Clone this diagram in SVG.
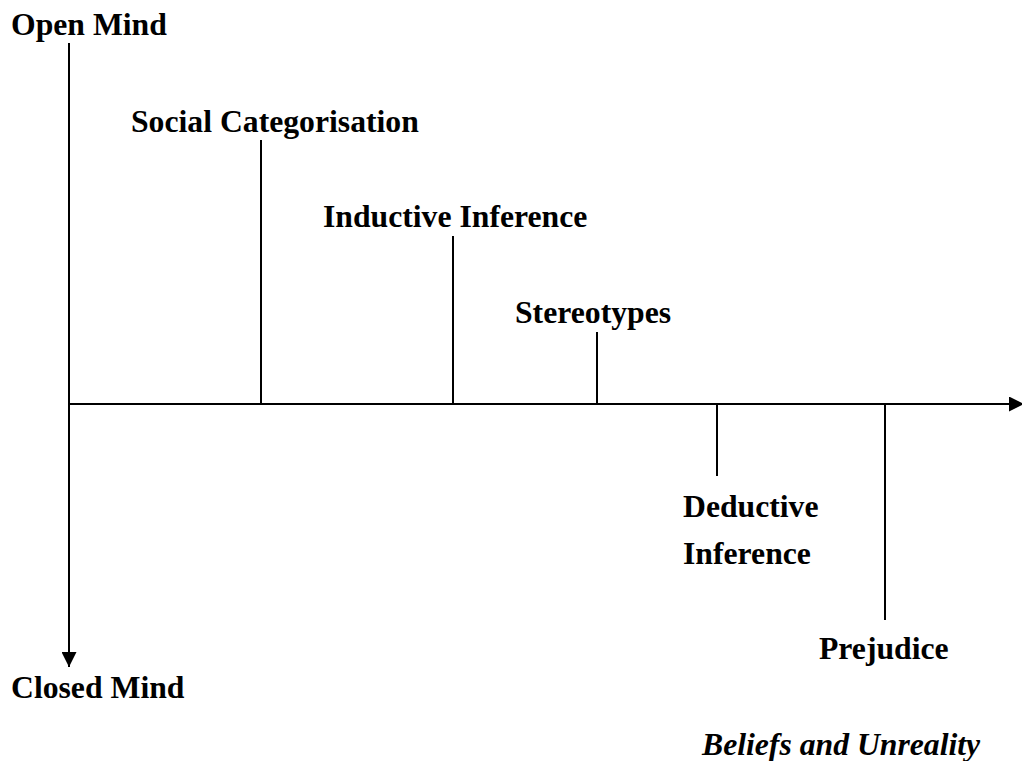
<svg xmlns="http://www.w3.org/2000/svg" width="1022" height="761" viewBox="0 0 1022 761">
  <style>
    .lbl { font-family: "Liberation Serif", "Times New Roman", serif; font-weight: bold; font-size: 31.7px; fill: #000; }
    .ital { font-style: italic; }
    .ln { stroke: #000; stroke-width: 2; fill: none; }
  </style>
  <defs>
    <marker id="arrow" viewBox="0 0 10 10" refX="10" refY="5" markerWidth="7.5" markerHeight="7.5" markerUnits="strokeWidth" orient="auto">
      <path d="M0,0 L10,5 L0,10 z" fill="#000"/>
    </marker>
  </defs>
  <rect width="1022" height="761" fill="#fff"/>

  <!-- axes and tick lines -->
  <g id="connectors">
    <line class="ln" x1="69" y1="43" x2="69" y2="667" marker-end="url(#arrow)"/>
    <line class="ln" x1="69" y1="404" x2="1024" y2="404" marker-end="url(#arrow)"/>
    <line class="ln" x1="261" y1="140" x2="261" y2="404"/>
    <line class="ln" x1="453" y1="236" x2="453" y2="404"/>
    <line class="ln" x1="597" y1="332" x2="597" y2="404"/>
    <line class="ln" x1="717" y1="404" x2="717" y2="476"/>
    <line class="ln" x1="885" y1="404" x2="885" y2="620"/>
  </g>

  <g id="open-mind"><text class="lbl" x="11" y="35">Open Mind</text></g>
  <g id="closed-mind"><text class="lbl" x="11" y="698">Closed Mind</text></g>
  <g id="social-categorisation"><text class="lbl" x="131" y="132">Social Categorisation</text></g>
  <g id="inductive-inference"><text class="lbl" x="323" y="227">Inductive Inference</text></g>
  <g id="stereotypes"><text class="lbl" x="515" y="323">Stereotypes</text></g>
  <g id="deductive-inference">
    <text class="lbl" x="683" y="517">Deductive</text>
    <text class="lbl" x="683" y="564">Inference</text>
  </g>
  <g id="prejudice"><text class="lbl" x="819" y="659">Prejudice</text></g>
  <g id="caption"><text class="lbl ital" x="702" y="755">Beliefs and Unreality</text></g>
</svg>
